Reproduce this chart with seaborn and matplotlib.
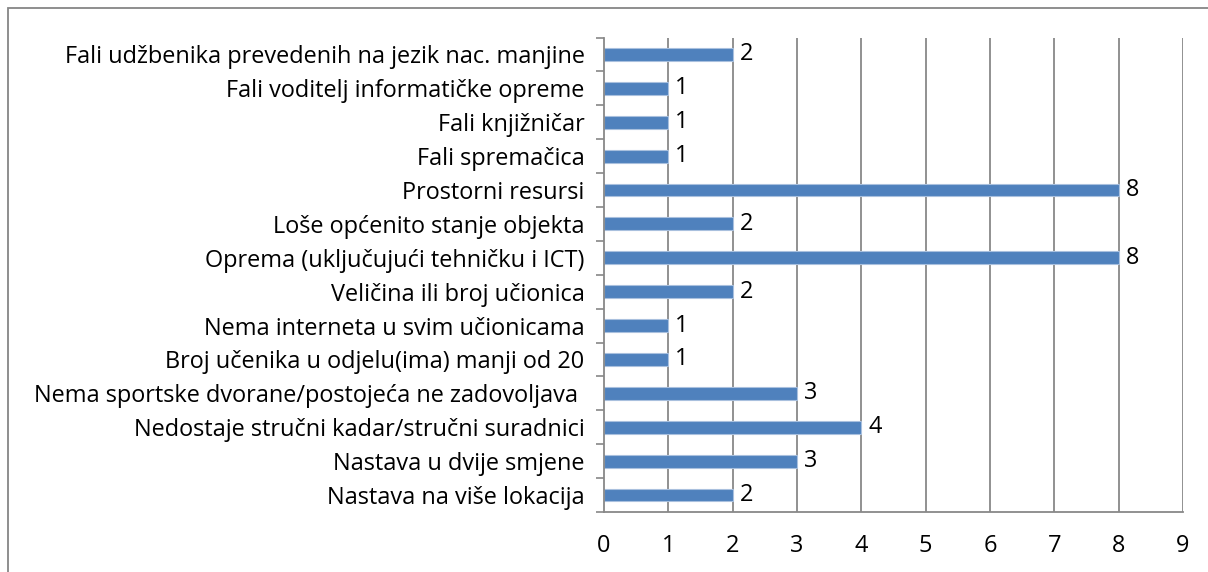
import matplotlib
matplotlib.use("Agg")
import matplotlib.pyplot as plt
from matplotlib.patches import Rectangle
from matplotlib.ticker import FixedLocator
import numpy as np
import pandas as pd
import seaborn as sns

categories = [
    "Fali udžbenika prevedenih na jezik nac. manjine",
    "Fali voditelj informatičke opreme",
    "Fali knjižničar",
    "Fali spremačica",
    "Prostorni resursi",
    "Loše općenito stanje objekta",
    "Oprema (uključujući tehničku i ICT)",
    "Veličina ili broj učionica",
    "Nema interneta u svim učionicama",
    "Broj učenika u odjelu(ima) manji od 20",
    "Nema sportske dvorane/postojeća ne zadovoljava ",
    "Nedostaje stručni kadar/stručni suradnici",
    "Nastava u dvije smjene",
    "Nastava na više lokacija",
]
counts = [2, 1, 1, 1, 8, 2, 8, 2, 1, 1, 3, 4, 3, 2]
x_ticks = [0, 1, 2, 3, 4, 5, 6, 7, 8, 9]

sns.set_theme(style="white")
plt.rcParams["font.family"] = ["Open Sans", "DejaVu Sans"]
FS = 16.9

df = pd.DataFrame({"kategorija": categories, "broj": counts})

fig = plt.figure(figsize=(12.08, 5.72), dpi=100)
ax = fig.add_axes([604 / 1208, 1 - 512 / 572, (1183 - 604) / 1208, (512 - 37.5) / 572])

sns.barplot(data=df, y="kategorija", x="broj", orient="h", color="#4F81BD",
            saturation=1, width=0.38, edgecolor="#A9C0DE", linewidth=0.8, ax=ax)

grid_col = "#888888"
ax.set_xlim(0, 9)
ax.set_ylim(len(categories) - 0.5, -0.5)
ax.set_xticks(x_ticks)
ax.set_xticklabels([str(t) for t in x_ticks], fontsize=FS, color="black")
ax.tick_params(axis="x", direction="out", length=6, width=1.2, color=grid_col, pad=10)
for t in x_ticks[1:]:
    ax.axvline(t, color=grid_col, lw=1.3, zorder=0)

ax.set_yticks(range(len(categories)))
ax.set_yticklabels(categories, fontsize=FS, color="black")
ax.tick_params(axis="y", which="major", length=0, pad=14)
ax.yaxis.set_minor_locator(FixedLocator(np.arange(-0.5, len(categories), 1.0)))
ax.tick_params(axis="y", which="minor", direction="out", length=6, width=1.2, color=grid_col, left=True)

ax.set_xlabel("")
ax.set_ylabel("")
for side in ["top", "right"]:
    ax.spines[side].set_visible(False)
for side in ["left", "bottom"]:
    ax.spines[side].set_color(grid_col)
    ax.spines[side].set_linewidth(1.3)

for i, v in enumerate(counts):
    ax.annotate(str(v), xy=(v, i), xytext=(5, 0), textcoords="offset points",
                va="center", ha="left", fontsize=FS, color="black")

fig.patches.append(Rectangle((8 / 1208, -0.1), 1.2, 1 - 8 / 572 + 0.1,
                             transform=fig.transFigure, fill=False,
                             edgecolor="#868686", linewidth=1.3))

fig.savefig("out.png", dpi=100)
